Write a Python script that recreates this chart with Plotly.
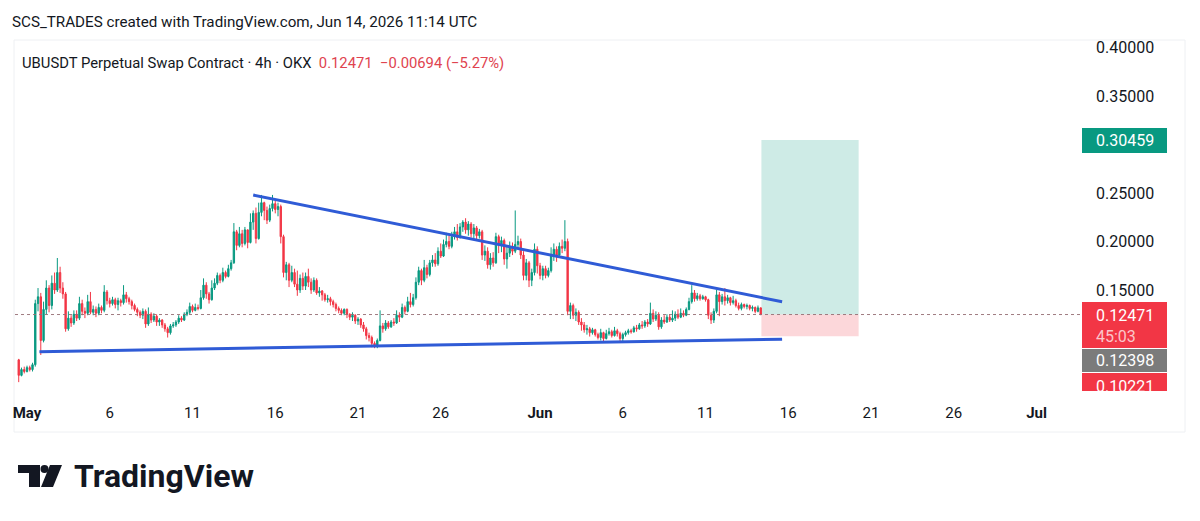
import plotly.graph_objects as go
import pandas as pd

# ---------------- data ----------------
first_open = 0.078
closes = [
    0.062, 0.068, 0.066, 0.070, 0.068, 0.073, 0.136, 0.143, 0.098, 0.130,
    0.152, 0.134, 0.157, 0.150, 0.168, 0.152, 0.146, 0.110, 0.121, 0.116,
    0.125, 0.121, 0.136, 0.128, 0.126, 0.138, 0.127, 0.130, 0.126, 0.132,
    0.129, 0.148, 0.139, 0.136, 0.140, 0.135, 0.139, 0.137, 0.145, 0.141,
    0.138, 0.134, 0.130, 0.127, 0.124, 0.128, 0.115, 0.125, 0.119, 0.123,
    0.117, 0.119, 0.114, 0.110, 0.106, 0.113, 0.114, 0.117, 0.121, 0.119,
    0.125, 0.127, 0.133, 0.129, 0.132, 0.131, 0.142, 0.155, 0.146, 0.140,
    0.152, 0.157, 0.165, 0.160, 0.168, 0.164, 0.172, 0.178, 0.210, 0.196,
    0.208, 0.198, 0.212, 0.199, 0.220, 0.229, 0.203, 0.230, 0.240, 0.232,
    0.222, 0.234, 0.239, 0.233, 0.236, 0.205, 0.168, 0.176, 0.160, 0.168,
    0.156, 0.150, 0.162, 0.154, 0.164, 0.158, 0.150, 0.160, 0.147, 0.149,
    0.145, 0.140, 0.141, 0.138, 0.135, 0.131, 0.129, 0.126, 0.130, 0.125,
    0.122, 0.124, 0.118, 0.120, 0.114, 0.110, 0.103, 0.101, 0.095, 0.093,
    0.098, 0.113, 0.110, 0.116, 0.112, 0.117, 0.116, 0.124, 0.122, 0.132,
    0.128, 0.138, 0.135, 0.142, 0.158, 0.170, 0.160, 0.173, 0.166, 0.178,
    0.181, 0.177, 0.190, 0.185, 0.197, 0.200, 0.195, 0.205, 0.210, 0.204,
    0.215, 0.220, 0.212, 0.218, 0.208, 0.214, 0.206, 0.210, 0.186, 0.190,
    0.176, 0.183, 0.178, 0.205, 0.196, 0.201, 0.182, 0.188, 0.195, 0.190,
    0.197, 0.200, 0.186, 0.165, 0.178, 0.160, 0.168, 0.192, 0.175, 0.165,
    0.172, 0.165, 0.170, 0.185, 0.192, 0.186, 0.195, 0.193, 0.200, 0.128,
    0.134, 0.124, 0.127, 0.117, 0.114, 0.109, 0.110, 0.106, 0.109, 0.104,
    0.101, 0.106, 0.100, 0.105, 0.107, 0.103, 0.108, 0.105, 0.100, 0.104,
    0.106, 0.108, 0.107, 0.111, 0.110, 0.114, 0.113, 0.117, 0.115, 0.126,
    0.120, 0.124, 0.112, 0.119, 0.117, 0.122, 0.119, 0.121, 0.125, 0.122,
    0.126, 0.124, 0.130, 0.138, 0.147, 0.141, 0.144, 0.141, 0.143, 0.140,
    0.124, 0.119, 0.128, 0.145, 0.138, 0.143, 0.139, 0.142, 0.137, 0.139,
    0.134, 0.131, 0.135, 0.133, 0.134, 0.131, 0.132, 0.128, 0.1316, 0.12471,
]
highs = [
    0.079, 0.070, 0.071, 0.072, 0.072, 0.075, 0.140, 0.152, 0.147, 0.138,
    0.160, 0.155, 0.165, 0.168, 0.183, 0.174, 0.158, 0.148, 0.128, 0.124,
    0.129, 0.129, 0.143, 0.140, 0.132, 0.145, 0.148, 0.134, 0.133, 0.136,
    0.134, 0.155, 0.150, 0.142, 0.143, 0.142, 0.142, 0.141, 0.155, 0.148,
    0.143, 0.140, 0.136, 0.132, 0.129, 0.131, 0.130, 0.132, 0.127, 0.126,
    0.125, 0.121, 0.120, 0.116, 0.112, 0.115, 0.117, 0.119, 0.124, 0.123,
    0.127, 0.130, 0.137, 0.135, 0.136, 0.135, 0.150, 0.162, 0.158, 0.148,
    0.160, 0.162, 0.168, 0.167, 0.173, 0.170, 0.176, 0.181, 0.219, 0.212,
    0.215, 0.212, 0.215, 0.207, 0.229, 0.232, 0.235, 0.240, 0.248, 0.241,
    0.236, 0.238, 0.248, 0.242, 0.240, 0.238, 0.207, 0.179, 0.178, 0.175,
    0.172, 0.170, 0.166, 0.168, 0.168, 0.172, 0.162, 0.163, 0.162, 0.153,
    0.150, 0.147, 0.145, 0.143, 0.140, 0.137, 0.133, 0.131, 0.131, 0.131,
    0.126, 0.127, 0.125, 0.122, 0.121, 0.117, 0.112, 0.106, 0.103, 0.097,
    0.100, 0.129, 0.116, 0.119, 0.118, 0.119, 0.121, 0.129, 0.127, 0.136,
    0.134, 0.143, 0.147, 0.146, 0.163, 0.174, 0.172, 0.181, 0.176, 0.181,
    0.186, 0.188, 0.194, 0.198, 0.202, 0.209, 0.206, 0.210, 0.215, 0.218,
    0.219, 0.222, 0.224, 0.221, 0.220, 0.218, 0.216, 0.213, 0.212, 0.196,
    0.194, 0.188, 0.189, 0.209, 0.207, 0.205, 0.203, 0.196, 0.200, 0.199,
    0.232, 0.206, 0.203, 0.190, 0.182, 0.180, 0.172, 0.198, 0.195, 0.178,
    0.175, 0.175, 0.173, 0.194, 0.198, 0.195, 0.199, 0.202, 0.222, 0.203,
    0.137, 0.136, 0.131, 0.129, 0.121, 0.117, 0.114, 0.112, 0.111, 0.110,
    0.106, 0.110, 0.107, 0.109, 0.111, 0.109, 0.112, 0.110, 0.107, 0.106,
    0.108, 0.110, 0.110, 0.113, 0.114, 0.116, 0.118, 0.119, 0.120, 0.137,
    0.130, 0.128, 0.127, 0.122, 0.124, 0.125, 0.125, 0.129, 0.128, 0.130,
    0.131, 0.129, 0.132, 0.142, 0.155, 0.150, 0.147, 0.146, 0.145, 0.144,
    0.141, 0.127, 0.131, 0.150, 0.148, 0.146, 0.152, 0.145, 0.143, 0.144,
    0.141, 0.137, 0.137, 0.136, 0.136, 0.135, 0.134, 0.133, 0.134, 0.1305,
]
lows = [
    0.055, 0.061, 0.064, 0.065, 0.066, 0.066, 0.071, 0.128, 0.083, 0.096,
    0.125, 0.127, 0.130, 0.146, 0.148, 0.147, 0.141, 0.107, 0.108, 0.112,
    0.114, 0.118, 0.119, 0.124, 0.121, 0.124, 0.125, 0.124, 0.122, 0.124,
    0.126, 0.127, 0.135, 0.132, 0.134, 0.131, 0.129, 0.133, 0.135, 0.137,
    0.135, 0.130, 0.128, 0.123, 0.121, 0.120, 0.111, 0.113, 0.116, 0.117,
    0.113, 0.113, 0.111, 0.107, 0.101, 0.104, 0.111, 0.112, 0.115, 0.117,
    0.118, 0.123, 0.125, 0.127, 0.128, 0.129, 0.130, 0.140, 0.141, 0.136,
    0.139, 0.150, 0.155, 0.157, 0.158, 0.162, 0.163, 0.170, 0.177, 0.191,
    0.194, 0.194, 0.196, 0.193, 0.198, 0.212, 0.198, 0.202, 0.226, 0.222,
    0.218, 0.220, 0.231, 0.229, 0.226, 0.198, 0.163, 0.160, 0.153, 0.158,
    0.153, 0.144, 0.147, 0.150, 0.150, 0.153, 0.146, 0.148, 0.145, 0.143,
    0.139, 0.138, 0.137, 0.134, 0.132, 0.128, 0.126, 0.124, 0.124, 0.121,
    0.119, 0.118, 0.115, 0.114, 0.111, 0.107, 0.099, 0.097, 0.091, 0.090,
    0.090, 0.097, 0.106, 0.108, 0.110, 0.111, 0.113, 0.115, 0.117, 0.121,
    0.125, 0.127, 0.132, 0.133, 0.140, 0.155, 0.155, 0.158, 0.162, 0.164,
    0.174, 0.174, 0.175, 0.183, 0.184, 0.194, 0.192, 0.193, 0.202, 0.201,
    0.203, 0.210, 0.208, 0.206, 0.204, 0.203, 0.202, 0.203, 0.181, 0.180,
    0.172, 0.171, 0.174, 0.177, 0.188, 0.189, 0.176, 0.172, 0.184, 0.186,
    0.188, 0.192, 0.182, 0.160, 0.160, 0.153, 0.154, 0.165, 0.167, 0.161,
    0.160, 0.162, 0.163, 0.168, 0.180, 0.179, 0.184, 0.188, 0.190, 0.124,
    0.120, 0.120, 0.118, 0.114, 0.108, 0.106, 0.104, 0.102, 0.104, 0.102,
    0.099, 0.098, 0.097, 0.099, 0.103, 0.101, 0.102, 0.102, 0.096, 0.097,
    0.102, 0.104, 0.105, 0.106, 0.107, 0.109, 0.110, 0.111, 0.112, 0.114,
    0.117, 0.118, 0.109, 0.110, 0.115, 0.116, 0.117, 0.117, 0.118, 0.120,
    0.121, 0.122, 0.123, 0.129, 0.136, 0.138, 0.139, 0.139, 0.140, 0.138,
    0.120, 0.115, 0.116, 0.126, 0.123, 0.135, 0.134, 0.136, 0.134, 0.135,
    0.132, 0.129, 0.129, 0.131, 0.130, 0.129, 0.128, 0.126, 0.127, 0.1240,
]
opens = [first_open] + closes[:-1]
times = pd.date_range("2026-04-30 12:00", periods=len(closes), freq="4h")

upper_line_t = ["2026-05-14 16:00", "2026-06-15 15:00"]
upper_line_p = [0.2479, 0.1379]
lower_line_t = ["2026-05-01 18:00", "2026-06-15 15:00"]
lower_line_p = [0.0864, 0.0992]

entry_price = 0.12471
target_price = 0.30459
stop_price = 0.10221
position_t = ["2026-06-14 09:00", "2026-06-20 06:00"]

last_price = 0.12471
prev_price_label = 0.12398
countdown = "45:03"

x_tick_dates = ["2026-05-01", "2026-05-06", "2026-05-11", "2026-05-16", "2026-05-21",
                "2026-05-26", "2026-06-01", "2026-06-06", "2026-06-11", "2026-06-16",
                "2026-06-21", "2026-06-26", "2026-07-01"]
x_tick_text = ["<b>May</b>", "6", "11", "16", "21", "26", "<b>Jun</b>", "6", "11",
               "16", "21", "26", "<b>Jul</b>"]
y_tick_vals = [0.15, 0.20, 0.25, 0.35, 0.40]
y_tick_text = ["0.15000", "0.20000", "0.25000", "0.35000", "0.40000"]

header = "SCS_TRADES created with TradingView.com, Jun 14, 2026 11:14 UTC"
legend_name = "UBUSDT Perpetual Swap Contract · 4h · OKX"
legend_vals = "0.12471  −0.00694 (−5.27%)"

# ---------------- layout geometry ----------------
W, H = 1200, 521
L, R, T, B = 15, 1070, 40, 395   # plot area in pixels
GREEN = "#089981"
RED = "#F23645"
TEXT = "#131722"
FONT = "Roboto"


def px(x):
    return (x - L) / (R - L)


def py(y):
    return (B - y) / (B - T)


fig = go.Figure()

fig.add_trace(go.Candlestick(
    x=times, open=opens, high=highs, low=lows, close=closes,
    increasing=dict(line=dict(color=GREEN, width=1), fillcolor=GREEN),
    decreasing=dict(line=dict(color=RED, width=1), fillcolor=RED),
    whiskerwidth=0, showlegend=False, hoverinfo="skip",
))

# trend lines
for tt, pp in [(upper_line_t, upper_line_p), (lower_line_t, lower_line_p)]:
    fig.add_trace(go.Scatter(x=tt, y=pp, mode="lines",
                             line=dict(color="#2f5bd6", width=3),
                             showlegend=False, hoverinfo="skip"))

shapes = []
# position tool boxes
shapes.append(dict(type="rect", xref="x", yref="y", x0=position_t[0], x1=position_t[1],
                   y0=entry_price, y1=target_price, fillcolor="rgba(8,153,129,0.2)",
                   line=dict(width=0), layer="below"))
shapes.append(dict(type="rect", xref="x", yref="y", x0=position_t[0], x1=position_t[1],
                   y0=stop_price, y1=entry_price, fillcolor="rgba(242,54,69,0.2)",
                   line=dict(width=0), layer="below"))
# last price dotted line
shapes.append(dict(type="line", xref="paper", yref="y", x0=0, x1=px(1082),
                   y0=last_price, y1=last_price,
                   line=dict(color="rgba(150,110,115,0.9)", width=1, dash="dot")))
# outer frame
shapes.append(dict(type="rect", xref="paper", yref="paper", x0=px(14), x1=px(1185),
                   y0=py(432), y1=py(40), line=dict(color="#eef0f3", width=1),
                   fillcolor="rgba(0,0,0,0)", layer="below"))

# price badges (rects)
def badge(y0, y1, color):
    shapes.append(dict(type="rect", xref="paper", yref="paper", x0=px(1082), x1=px(1167),
                       y0=py(y1), y1=py(y0), fillcolor=color, line=dict(width=0)))

badge(128, 153, GREEN)
badge(302, 348, RED)
badge(349, 372, "#7b7b7b")
badge(373, 391, RED)

# TradingView logo glyph
shapes.append(dict(type="path", xref="paper", yref="paper",
                   path=f"M {px(18)},{py(465)} L {px(40)},{py(465)} L {px(40)},{py(487)} "
                        f"L {px(29)},{py(487)} L {px(29)},{py(473)} L {px(18)},{py(473)} Z",
                   fillcolor="#131722", line=dict(width=0)))
shapes.append(dict(type="circle", xref="paper", yref="paper",
                   x0=px(40.5), x1=px(48.5), y0=py(473), y1=py(465),
                   fillcolor="#131722", line=dict(width=0)))
shapes.append(dict(type="path", xref="paper", yref="paper",
                   path=f"M {px(50)},{py(465)} L {px(62)},{py(465)} L {px(53)},{py(487)} "
                        f"L {px(41)},{py(487)} Z",
                   fillcolor="#131722", line=dict(width=0)))

annotations = []


def label(x, y, text, size, color, xanchor="left", **kw):
    annotations.append(dict(xref="paper", yref="paper", x=px(x), y=py(y), text=text,
                            showarrow=False, xanchor=xanchor, yanchor="middle",
                            font=dict(family=FONT, size=size, color=color), **kw))


label(10, 22, header, 15.2, TEXT)
label(20, 63, f"{legend_name}  <span style='color:#e0434f'>{legend_vals}</span>", 14.8, TEXT)

label(1124.5, 140.5, f"{target_price:.5f}", 16, "white", xanchor="center")
label(1124.5, 315, f"{last_price:.5f}", 16, "white", xanchor="center")
label(1116, 336, countdown, 16, "rgba(255,255,255,0.72)", xanchor="center")
label(1124.5, 360.5, f"{prev_price_label:.5f}", 16, "white", xanchor="center")
label(1124.5, 386, f"{stop_price:.5f}", 16, "white", xanchor="center")
# white cover clipping the bottom badge
annotations.append(dict(xref="paper", yref="paper", x=px(1075), y=py(391),
                        xanchor="left", yanchor="top", text=" ", showarrow=False,
                        bgcolor="white", width=100, height=14, borderpad=0))

label(72, 476, "<b>TradingView</b>", 32, "#131722")

fig.update_layout(
    width=W, height=H,
    margin=dict(l=L, r=W - R, t=T, b=H - B, pad=0),
    paper_bgcolor="white", plot_bgcolor="white",
    shapes=shapes, annotations=annotations,
    showlegend=False,
    font=dict(family=FONT, color=TEXT),
    xaxis=dict(
        type="date",
        range=["2026-04-30 06:36", "2026-07-03 00:30"],
        rangeslider=dict(visible=False),
        showgrid=False, zeroline=False, showline=False,
        tickmode="array", tickvals=x_tick_dates, ticktext=x_tick_text,
        ticks="", tickfont=dict(family=FONT, size=15, color=TEXT),
        ticklabelstandoff=7,
    ),
    yaxis=dict(
        side="right",
        range=[0.04175, 0.40773],
        showgrid=False, zeroline=False, showline=False,
        tickmode="array", tickvals=y_tick_vals, ticktext=y_tick_text,
        ticks="", tickfont=dict(family=FONT, size=16, color=TEXT),
        ticklabelstandoff=25,
    ),
)

fig.write_html("out.html")
